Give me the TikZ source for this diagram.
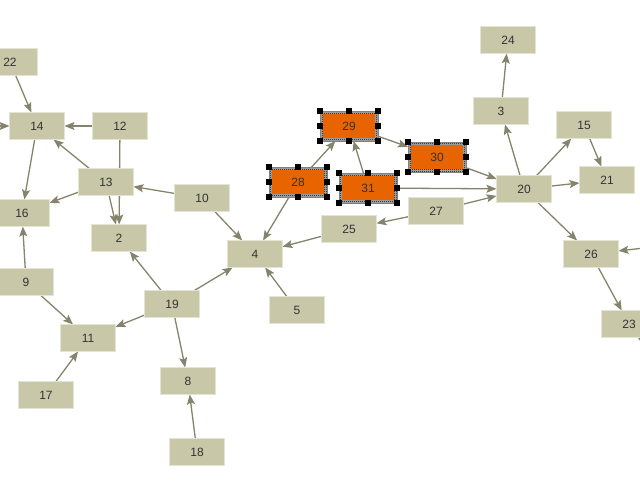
\documentclass[tikz,border=0pt]{standalone}
\usepackage{fontspec}
\setmainfont{Liberation Sans}
\usetikzlibrary{arrows.meta,patterns}
\definecolor{boxfill}{HTML}{C8C8A8}
\definecolor{boxedge}{HTML}{E4E4D4}
\definecolor{edgecol}{HTML}{86836D}
\definecolor{orangefill}{HTML}{E86400}
\definecolor{txt}{HTML}{333333}
\pgfdeclarepatternformonly{finechecker}{\pgfpointorigin}{\pgfqpoint{2pt}{2pt}}{\pgfqpoint{2pt}{2pt}}{%
  \pgfpathrectangle{\pgfpointorigin}{\pgfqpoint{1.05pt}{1.05pt}}%
  \pgfpathrectangle{\pgfqpoint{1pt}{1pt}}{\pgfqpoint{1.05pt}{1.05pt}}%
  \pgfusepath{fill}}
\pgfdeclarelayer{back}
\pgfdeclarelayer{bg}
\pgfsetlayers{back,bg,main}
\begin{document}
\begin{tikzpicture}[x=1pt,y=-1pt,
  box/.style={rectangle, draw=boxedge, line width=0.8pt, fill=boxfill,
    minimum width=55pt, minimum height=27pt, inner sep=0pt, outer sep=0pt,
    font=\fontsize{12}{13}\selectfont, text=txt},
  selbox/.style={rectangle, draw=gray, line width=0.5pt,
    preaction={fill=black!30}, pattern=finechecker, pattern color=black,
    minimum width=58pt, minimum height=30pt, inner sep=0pt, outer sep=0pt,
    font=\fontsize{12}{13}\selectfont, text=txt,
    path picture={\fill[orangefill] ([shift={(3pt,3pt)}]path picture bounding box.south west)
      rectangle ([shift={(-3pt,-3pt)}]path picture bounding box.north east);}},
  conn/.style={draw=edgecol, line width=1.3pt, -{Stealth[length=10pt,width=8pt,inset=2pt]}},
  handle/.style={fill=black}
]
\clip (0,0) rectangle (640,480);
\useasboundingbox (0,0) rectangle (640,480);
\begin{pgfonlayer}{back}
\fill[white] (0,0) rectangle (640,480);
\end{pgfonlayer}

% plain nodes
\node[box] (n22) at (10,62) {22};
\node[box] (n14) at (37,126) {14};
\node[box] (n12) at (120,126) {12};
\node[box] (n13) at (106,182) {13};
\node[box] (n16) at (22,213) {16};
\node[box] (n2) at (119,238) {2};
\node[box] (n10) at (202,198) {10};
\node[box] (n4) at (255,254) {4};
\node[box] (n25) at (349,229) {25};
\node[box] (n5) at (297,310) {5};
\node[box] (n19) at (172,304) {19};
\node[box] (n9) at (26,282) {9};
\node[box] (n11) at (88,338) {11};
\node[box] (n17) at (46,395) {17};
\node[box] (n8) at (188,381) {8};
\node[box] (n18) at (197,452) {18};
\node[box] (n27) at (436,211) {27};
\node[box] (n24) at (508,40) {24};
\node[box] (n3) at (501,111) {3};
\node[box] (n15) at (584,125) {15};
\node[box] (n21) at (607,180) {21};
\node[box] (n20) at (524,189) {20};
\node[box] (n26) at (591,254) {26};
\node[box] (n23) at (629,324) {23};

% selected nodes
\node[selbox] (n28) at (298,182) {28};
\node[selbox] (n29) at (349,126) {29};
\node[selbox] (n30) at (437,157) {30};
\node[selbox] (n31) at (368,188) {31};

% free ends
\coordinate (inL) at (-25,126);
\coordinate (inR) at (680,244);
\coordinate (outBR) at (700,425);

\begin{pgfonlayer}{bg}
\draw[conn] (n22) -- (n14);
\draw[conn] (inL) -- (n14);
\draw[conn] (n12) -- (n14);
\draw[conn] (n13) -- (n14);
\draw[conn] (n14) -- (n16);
\draw[conn] (n13) -- (n16);
\draw[conn] (n12) -- (n2);
\draw[conn] (n13) -- (n2);
\draw[conn] (n10) -- (n13);
\draw[conn] (n10) -- (n4);
\draw[conn] (n28) -- (n4);
\draw[conn] (n25) -- (n4);
\draw[conn] (n19) -- (n4);
\draw[conn] (n5) -- (n4);
\draw[conn] (n19) -- (n2);
\draw[conn] (n19) -- (n11);
\draw[conn] (n19) -- (n8);
\draw[conn] (n9) -- (n11);
\draw[conn] (n9) -- (n16);
\draw[conn] (n17) -- (n11);
\draw[conn] (n18) -- (n8);
\draw[conn] (n28) -- (n29);
\draw[conn] (n31) -- (n29);
\draw[conn] (n29) -- (n30);
\draw[conn] (n30) -- (n20);
\draw[conn] (n31) -- (n20);
\draw[conn] (n27) -- (n20);
\draw[conn] (n27) -- (n25);
\draw[conn] (n20) -- (n3);
\draw[conn] (n3) -- (n24);
\draw[conn] (n20) -- (n15);
\draw[conn] (n20) -- (n21);
\draw[conn] (n15) -- (n21);
\draw[conn] (n20) -- (n26);
\draw[conn] (inR) -- (n26);
\draw[conn] (n26) -- (n23);
\draw[conn] (n23) -- (outBR);
\end{pgfonlayer}

% selection handles
\foreach \n in {n28,n29,n30,n31}{
  \foreach \a in {north west,north,north east,east,south east,south,south west,west}{
    \fill[handle] (\n.\a) ++(-3pt,-3pt) rectangle ++(6pt,6pt);
  }
}
\end{tikzpicture}
\end{document}
